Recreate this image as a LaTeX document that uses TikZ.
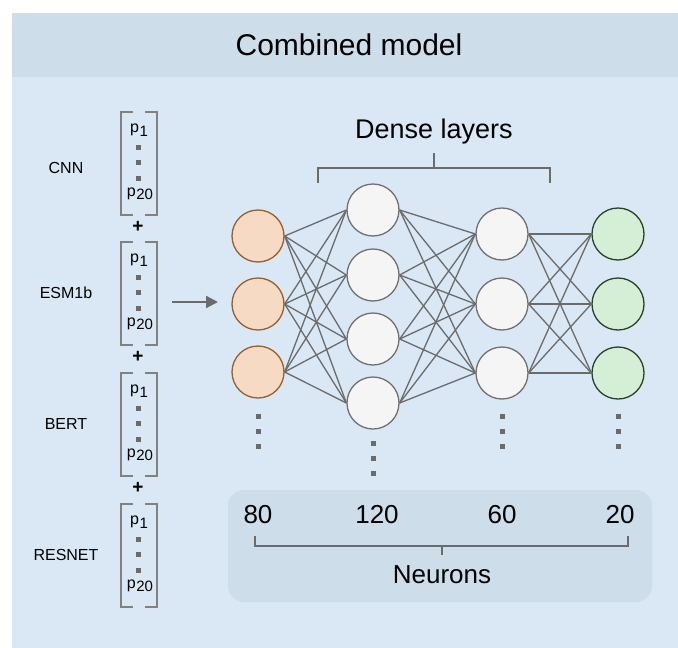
\documentclass[tikz,border=0pt]{standalone}
\usepackage{fontspec}
\setmainfont{Liberation Sans}
\usetikzlibrary{arrows.meta}
\definecolor{hdr}{HTML}{CEDDEA}
\definecolor{body}{HTML}{DAE8F6}
\definecolor{boxc}{HTML}{CDDDEA}
\definecolor{gline}{HTML}{6B6B6B}
\definecolor{ofill}{HTML}{F7DAC4}
\definecolor{odraw}{HTML}{94602C}
\definecolor{wfill}{HTML}{F5F5F5}
\definecolor{wdraw}{HTML}{707070}
\definecolor{gfill}{HTML}{D5EFD6}
\definecolor{gdraw}{HTML}{2B3F2B}
\newcommand{\fs}[1]{\fontsize{#1}{#1}\selectfont}
\newcommand{\pv}[1]{p\kern0.5pt\raisebox{-3.5pt}{\fs{15}#1}}
\tikzset{
  neuron/.style={circle, minimum size=52pt, inner sep=0pt, line width=1.3pt},
  inneur/.style={neuron, fill=ofill, draw=odraw},
  hidneur/.style={neuron, fill=wfill, draw=wdraw},
  outneur/.style={neuron, fill=gfill, draw=gdraw},
  conn/.style={draw=gline, line width=1.3pt},
  sq/.style={fill=gline, minimum size=5pt, inner sep=0pt},
  brk/.style={draw=gline, line width=2.6pt},
  vbrk/.style={draw=gline!85, line width=1.4pt},
  lbl/.style={font=\fs{16}, inner sep=0pt},
  pent/.style={font=\fs{16}, inner sep=0pt},
}
\begin{document}
\begin{tikzpicture}[x=1pt,y=-1pt]
\useasboundingbox (0,0) rectangle (678,648);
\fill[white] (0,0) rectangle (678,648);
\fill[body] (12,13) rectangle (678,648);
\fill[hdr] (12,13) rectangle (678,77);
\node[font=\fs{30}, inner sep=0pt] (title) at (349,45) {Combined model};

% input vectors
\foreach \t/\nm/\ly/\lab in {112/v1/168/CNN, 242/v2/293/ESM1b, 373/v3/424/BERT, 504/v4/555/RESNET}{
  \draw[vbrk] (133,\t) -- (121,\t) -- (121,\t+103) -- (133,\t+103);
  \draw[vbrk] (145,\t) -- (157,\t) -- (157,\t+103) -- (145,\t+103);
  \node[pent] (\nm a) at (139,\t+18) {\pv{1}};
  \node[sq] (\nm d1) at (138,\t+35) {};
  \node[sq] (\nm d2) at (138,\t+50) {};
  \node[sq] (\nm d3) at (138,\t+66) {};
  \node[pent] (\nm b) at (140,\t+82) {\pv{20}};
  \node[lbl] (\nm l) at (66,\ly) {\lab};
}
\foreach \y/\nm in {227/plusa, 357/plusb, 488/plusc}{
  \node[font=\fs{19}, inner sep=0pt, text=black] (\nm) at (138,\y) {\textbf{+}};
}
\coordinate (arrs) at (172,302);
\coordinate (arre) at (218,302);
\draw[draw=gline, line width=2.2pt, -{Triangle[length=12pt,width=12pt]}] (arrs) -- (arre);

% neurons
\foreach \y [count=\i] in {236,304,372}{\node[inneur] (a\i) at (258,\y) {};}
\foreach \y [count=\i] in {210,275,339,403}{\node[hidneur] (b\i) at (373,\y) {};}
\foreach \y [count=\i] in {234,304,373}{\node[hidneur] (c\i) at (502,\y) {};}
\foreach \y [count=\i] in {234,304,373}{\node[outneur] (d\i) at (618,\y) {};}

\foreach \i in {1,2,3}{\foreach \j in {1,2,3,4}{\draw[conn] (a\i.east) -- (b\j.west);}}
\foreach \i in {1,2,3,4}{\foreach \j in {1,2,3}{\draw[conn] (b\i.east) -- (c\j.west);}}
\foreach \i in {1,2,3}{\foreach \j in {1,2,3}{\draw[conn] (c\i.east) -- (d\j.west);}}

% vertical dots
\foreach \x/\y/\nm in {258/416/da, 373/443/db, 502/416/dc, 618/416/dd}{
  \node[sq] (\nm1) at (\x,\y) {};
  \node[sq] (\nm2) at (\x,\y+15) {};
  \node[sq] (\nm3) at (\x,\y+30) {};
}

% dense layers bracket
\coordinate (dl1) at (318,183);
\coordinate (dl2) at (318,168);
\coordinate (dl3) at (550,168);
\coordinate (dl4) at (550,183);
\coordinate (dlm) at (434,168);
\coordinate (dlt) at (434,153);
\draw[brk] (dl1) -- (dl2) -- (dl3) -- (dl4);
\draw[brk] (dlm) -- (dlt);
\node[font=\fs{27}, inner sep=0pt] (dense) at (434,132) {Dense layers};

% neurons box
\fill[boxc, rounded corners=16pt] (228,490) rectangle (652,602);
\node[font=\fs{26}, inner sep=0pt, anchor=base] (n80) at (258,523) {80};
\node[font=\fs{26}, inner sep=0pt, anchor=base] (n120) at (377,523) {120};
\node[font=\fs{26}, inner sep=0pt, anchor=base] (n60) at (502,523) {60};
\node[font=\fs{26}, inner sep=0pt, anchor=base] (n20) at (620,523) {20};
\coordinate (nb1) at (255,536);
\coordinate (nb2) at (255,546);
\coordinate (nb3) at (628,546);
\coordinate (nb4) at (628,536);
\coordinate (nbm) at (442,546);
\coordinate (nbt) at (442,555);
\draw[brk] (nb1) -- (nb2) -- (nb3) -- (nb4);
\draw[brk] (nbm) -- (nbt);
\node[font=\fs{26}, inner sep=0pt, anchor=base] (neur) at (442,583) {Neurons};
\end{tikzpicture}
\end{document}
